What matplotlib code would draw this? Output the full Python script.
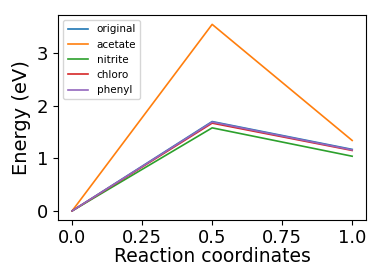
import matplotlib
matplotlib.use("Agg")
from matplotlib import pyplot as plt

x = [0.0, 0.5, 1.0]
original = [0.0, 1.70, 1.17]
acetate = [0.0, 3.55, 1.34]
nitrite = [0.0, 1.58, 1.04]
chloro = [0.0, 1.67, 1.15]
phenyl = [0.0, 1.69, 1.16]

xtick_vals = [0.0, 0.25, 0.5, 0.75, 1.0]
xtick_labels = ["0.0", "0.25", "0.5", "0.75", "1.0"]

series = [("original", original), ("acetate", acetate), ("nitrite", nitrite),
          ("chloro", chloro), ("phenyl", phenyl)]


def main():
    fig = plt.figure(figsize=(3.68, 2.64), dpi=100)
    ax = fig.add_axes([0.158, 0.166, 0.837, 0.777])
    for name, vals in series:
        ax.plot(x, vals, label=name, linewidth=1.2)
    ax.set_xlabel("Reaction coordinates", fontsize=13.5, labelpad=0)
    ax.set_ylabel("Energy (eV)", fontsize=14)
    ax.tick_params(labelsize=13)
    ax.tick_params(axis="x", pad=2.5)
    ax.set_xticks(xtick_vals)
    ax.set_xticklabels(xtick_labels)
    ax.legend(fontsize=7.5, loc="upper left")
    fig.savefig("out.png", dpi=100)


if __name__ == "__main__":
    main()
